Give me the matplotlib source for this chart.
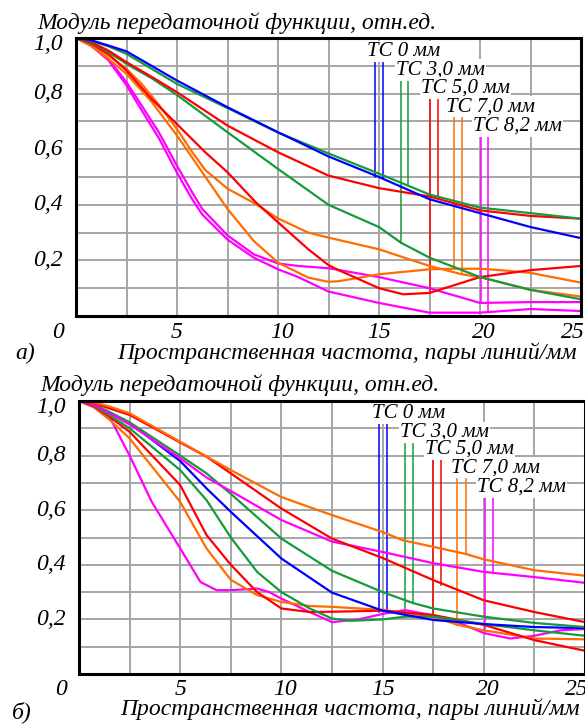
import numpy as np
import matplotlib
matplotlib.use('Agg')
import matplotlib.pyplot as plt
from matplotlib import transforms

plt.rcParams['font.family'] = ['Liberation Serif', 'DejaVu Serif']
plt.rcParams['font.style'] = 'italic'

BLUE = '#0000ff'
GREEN = '#159a3c'
RED = '#ff0000'
ORANGE = '#ff6c00'
MAGENTA = '#ff00ff'

# ---------------- panel a) ----------------
a_blue_x = [0, 0.75, 1.6, 2.5, 5, 7.5, 10, 12.5, 15, 17.5, 20, 22.5, 25]
a_blue_y = [1.0, 0.992, 0.973, 0.952, 0.847, 0.751, 0.661, 0.574, 0.50, 0.42, 0.37, 0.32, 0.28]

a_green1_x = [0, 0.75, 1.6, 2.5, 5, 7.5, 10, 12.5, 15, 17.5, 20, 22.5, 25]
a_green1_y = [1.0, 0.99, 0.97, 0.943, 0.835, 0.748, 0.66, 0.585, 0.512, 0.437, 0.39, 0.37, 0.35]

a_red1_x = [0, 0.75, 1.6, 2.5, 3.75, 5, 7.5, 10, 12.5, 15, 17.5, 20, 22.5, 25]
a_red1_y = [1.0, 0.985, 0.955, 0.913, 0.86, 0.805, 0.685, 0.589, 0.505, 0.46, 0.43, 0.38, 0.36, 0.35]

a_green2_x = [0, 0.75, 1.6, 2.5, 3.75, 5, 7.5, 10, 12.5, 15, 16.1, 17.5, 20, 22.5, 25]
a_green2_y = [1.0, 0.982, 0.95, 0.907, 0.855, 0.795, 0.661, 0.529, 0.40, 0.32, 0.263, 0.21, 0.14, 0.094, 0.06]

a_red2_x = [0, 0.75, 1.6, 2.5, 3.75, 5, 6.4, 7.5, 8.9, 10, 11.5, 12.5, 13, 15, 16.2, 17.5, 20, 22.5, 25]
a_red2_y = [1.0, 0.98, 0.943, 0.883, 0.78, 0.69, 0.589, 0.517, 0.409, 0.337, 0.24, 0.183, 0.165, 0.10,
            0.078, 0.083, 0.14, 0.165, 0.18]

a_orange1_x = [0, 0.75, 1.6, 2.5, 3.25, 4.1, 5, 5.75, 6.4, 7.5, 8.9, 10, 11.5, 12.5, 15, 17.5, 19.1, 20,
               22.5, 25]
a_orange1_y = [1.0, 0.978, 0.937, 0.889, 0.835, 0.76, 0.672, 0.59, 0.525, 0.458, 0.403, 0.351, 0.30,
               0.282, 0.24, 0.18, 0.15, 0.14, 0.094, 0.07]

a_orange2_x = [0, 0.75, 1.6, 2.5, 3.75, 5, 6.25, 7.5, 8.8, 10, 11.5, 12.5, 13, 15, 17.5, 18.7, 20, 21,
               22.5, 25]
a_orange2_y = [1.0, 0.972, 0.925, 0.871, 0.77, 0.649, 0.517, 0.385, 0.27, 0.192, 0.138, 0.123, 0.125,
               0.15, 0.168, 0.17, 0.17, 0.165, 0.155, 0.12]

a_magenta1_x = [0, 0.75, 1.6, 2.5, 3.25, 4.1, 5, 5.75, 6.25, 7.5, 8.8, 10, 11, 12.5, 15, 17.5, 20,
                22.5, 25]
a_magenta1_y = [1.0, 0.974, 0.925, 0.841, 0.757, 0.661, 0.54, 0.445, 0.385, 0.29, 0.222, 0.189, 0.18,
                0.172, 0.14, 0.10, 0.047, 0.05, 0.05]

a_magenta2_x = [0, 0.75, 1.6, 2.5, 3.25, 4.1, 5, 5.75, 6.25, 7.5, 8.8, 10, 11, 12.5, 15, 17.5, 20,
                22.5, 25]
a_magenta2_y = [1.0, 0.972, 0.92, 0.83, 0.74, 0.64, 0.515, 0.42, 0.365, 0.275, 0.21, 0.168, 0.14,
                0.088, 0.047, 0.012, 0.012, 0.025, 0.018]

# ---------------- panel б) ----------------
b_orange1_x = [0, 0.75, 1.5, 2.5, 5, 7.5, 10, 12.5, 15, 16, 19.1, 20, 22.5, 25]
b_orange1_y = [1.0, 0.995, 0.98, 0.955, 0.851, 0.747, 0.648, 0.582, 0.52, 0.49, 0.44, 0.42, 0.38, 0.36]

b_red1_x = [0, 0.75, 1.5, 2.5, 5, 6.3, 7.5, 10, 12.5, 15, 17.5, 20, 22.5, 25]
b_red1_y = [1.0, 0.992, 0.973, 0.949, 0.848, 0.796, 0.735, 0.606, 0.496, 0.425, 0.344, 0.27, 0.227, 0.19]

b_magenta1_x = [0, 0.75, 1.5, 2.5, 5, 6.3, 7.5, 10, 12.5, 15, 17.5, 20, 22.5, 25]
b_magenta1_y = [1.0, 0.985, 0.955, 0.914, 0.79, 0.72, 0.67, 0.564, 0.485, 0.447, 0.406, 0.374, 0.355, 0.334]

b_green1_x = [0, 0.75, 1.5, 2.5, 5, 6.3, 7.5, 10, 12.5, 15, 16.5, 17.5, 20, 22.5, 25]
b_green1_y = [1.0, 0.987, 0.96, 0.922, 0.80, 0.735, 0.66, 0.496, 0.378, 0.30, 0.26, 0.24, 0.21, 0.187, 0.172]

b_blue_x = [0, 0.75, 1.5, 2.5, 5, 6.3, 7.5, 10, 12.5, 15, 17.5, 20, 22.5, 25]
b_blue_y = [1.0, 0.986, 0.958, 0.92, 0.78, 0.68, 0.594, 0.423, 0.298, 0.232, 0.198, 0.183, 0.172, 0.168]

b_green2_x = [0, 0.75, 1.5, 2.5, 5, 6.3, 7.5, 8.8, 10, 11.4, 12.5, 13.5, 15, 16.1, 17.5, 20, 22.5, 25]
b_green2_y = [1.0, 0.983, 0.948, 0.90, 0.747, 0.637, 0.50, 0.374, 0.30, 0.24, 0.203, 0.195, 0.20, 0.21,
              0.21, 0.183, 0.16, 0.14]

b_red2_x = [0, 0.75, 1.5, 2.5, 5, 6.3, 7.5, 8.8, 10, 11.4, 12.5, 15, 17.5, 20, 22.5, 25]
b_red2_y = [1.0, 0.98, 0.943, 0.887, 0.692, 0.509, 0.40, 0.30, 0.24, 0.227, 0.228, 0.232, 0.216, 0.18,
            0.124, 0.085]

b_orange2_x = [0, 0.75, 1.5, 2.5, 5, 6.3, 7.5, 8.8, 10, 11.4, 12.5, 15, 17.5, 18.7, 20, 22.5, 25]
b_orange2_y = [1.0, 0.976, 0.932, 0.863, 0.63, 0.46, 0.345, 0.289, 0.264, 0.249, 0.246, 0.235, 0.21,
               0.18, 0.16, 0.13, 0.127]

b_magenta2_x = [0, 0.75, 1.5, 2.5, 3.6, 5, 6, 6.8, 7.5, 8.8, 9.4, 10, 11.4, 12.5, 13.8, 15, 16.1,
                17.5, 18.7, 20, 21.3, 22.5, 23.8, 25]
b_magenta2_y = [1.0, 0.985, 0.943, 0.80, 0.63, 0.46, 0.337, 0.307, 0.307, 0.313, 0.30, 0.276, 0.227,
                0.19, 0.2, 0.22, 0.234, 0.215, 0.19, 0.15, 0.13, 0.14, 0.16, 0.165]

# legend labels and their marker lines (two per defocus value)
tc_labels = ['ТС 0 мм', 'ТС 3,0 мм', 'ТС 5,0 мм', 'ТС 7,0 мм', 'ТС 8,2 мм']
tc_colors = [BLUE, GREEN, RED, ORANGE, MAGENTA]
a_mark_x = [(14.8, 15.2), (16.1, 16.45), (17.5, 17.9), (18.7, 19.1), (20.05, 20.4)]
a_mark_top = [0.917, 0.853, 0.784, 0.716, 0.644]
a_mark_end = [(0.50, 0.496), (0.263, 0.475), (0.083, 0.43), (0.17, 0.15), (0.047, 0.018)]
a_label_xy = [(14.4, 0.95), (15.86, 0.885), (17.1, 0.82), (18.33, 0.752), (19.66, 0.682)]

b_mark_x = [(14.8, 15.2), (16.1, 16.5), (17.5, 17.9), (18.7, 19.1), (20.05, 20.45)]
b_mark_top = [0.919, 0.853, 0.788, 0.714, 0.645]
b_mark_end = [(0.227, 0.223), (0.21, 0.26), (0.216, 0.326), (0.18, 0.44), (0.15, 0.37)]
b_label_xy = [(14.48, 0.956), (15.86, 0.886), (17.1, 0.824), (18.38, 0.755), (19.66, 0.685)]

y_labels = ['0,2', '0,4', '0,6', '0,8', '1,0']
y_label_vals = [0.2, 0.4, 0.6, 0.8, 1.0]
x_labels = ['5', '10', '15', '20', '25']
x_label_pos = [5.0, 10.2, 15.0, 20.2, 24.6]

title = 'Модуль передаточной функции, отн.ед.'
xtitle = 'Пространственная частота, пары линий/мм'

FS = 17
FS_TC = 15


def draw_panel(ax, curves, mark_x, mark_top, mark_end, label_xy):
    ax.set_xlim(0, 25)
    ax.set_ylim(0, 1.0)
    ax.set_xticks(np.arange(0, 25.01, 2.5))
    ax.set_yticks(np.arange(0, 1.001, 0.1))
    ax.set_xticklabels([])
    ax.set_yticklabels([])
    ax.tick_params(length=0)
    ax.grid(True, color='#a6a6a6', lw=1.4)
    ax.set_axisbelow(True)
    for s in ax.spines.values():
        s.set_linewidth(2.2)
        s.set_color('black')
        s.set_zorder(6)

    for x, y, c in curves:
        ax.plot(x, y, color=c, lw=1.6, zorder=3, solid_joinstyle='round')

    for i, c in enumerate(tc_colors):
        for k in range(2):
            ax.plot([mark_x[i][k], mark_x[i][k]], [mark_top[i], mark_end[i][k]],
                    color=c, lw=1.1, zorder=2)
        ax.text(label_xy[i][0], label_xy[i][1], tc_labels[i], fontsize=FS_TC,
                ha='left', va='center', zorder=4,
                bbox=dict(boxstyle='square,pad=0.05', fc='white', ec='none'))

    ty = transforms.blended_transform_factory(ax.transAxes, ax.transData)
    for v, s in zip(y_label_vals, y_labels):
        yy = v - 0.025 if v == 1.0 else v
        ax.text(-0.027, yy, s, transform=ty, ha='right', va='center', fontsize=FS)
    tx = transforms.blended_transform_factory(ax.transData, ax.transAxes)
    for p, s in zip(x_label_pos, x_labels):
        ax.text(p, -0.058, s, transform=tx, ha='center', va='center', fontsize=FS)
    ax.text(-0.036, -0.058, '0', transform=ax.transAxes, ha='center', va='center', fontsize=FS)


fig = plt.figure(figsize=(5.85, 7.24), dpi=100)

ax1 = fig.add_axes([76 / 585, 1 - 316 / 724, 505 / 585, 278 / 724])
draw_panel(ax1, [
    (a_magenta1_x, a_magenta1_y, MAGENTA), (a_magenta2_x, a_magenta2_y, MAGENTA),
    (a_orange1_x, a_orange1_y, ORANGE), (a_orange2_x, a_orange2_y, ORANGE),
    (a_red2_x, a_red2_y, RED), (a_green2_x, a_green2_y, GREEN),
    (a_red1_x, a_red1_y, RED), (a_green1_x, a_green1_y, GREEN),
    (a_blue_x, a_blue_y, BLUE),
], a_mark_x, a_mark_top, a_mark_end, a_label_xy)

ax2 = fig.add_axes([79 / 585, 1 - 674 / 724, 506 / 585, 273 / 724])
draw_panel(ax2, [
    (b_magenta2_x, b_magenta2_y, MAGENTA), (b_orange2_x, b_orange2_y, ORANGE),
    (b_red2_x, b_red2_y, RED), (b_green2_x, b_green2_y, GREEN),
    (b_blue_x, b_blue_y, BLUE), (b_green1_x, b_green1_y, GREEN),
    (b_magenta1_x, b_magenta1_y, MAGENTA), (b_red1_x, b_red1_y, RED),
    (b_orange1_x, b_orange1_y, ORANGE),
], b_mark_x, b_mark_top, b_mark_end, b_label_xy)

fig.text(37 / 585, 1 - 23 / 724, title, fontsize=FS, ha='left', va='center')
fig.text(40 / 585, 1 - 385 / 724, title, fontsize=FS, ha='left', va='center')
fig.text(117 / 585, 1 - 353 / 724, xtitle, fontsize=FS, ha='left', va='center')
fig.text(120 / 585, 1 - 709 / 724, xtitle, fontsize=FS, ha='left', va='center')
fig.text(15 / 585, 1 - 353 / 724, 'а)', fontsize=FS, ha='left', va='center')
fig.text(12 / 585, 1 - 712 / 724, 'б)', fontsize=FS, ha='left', va='center')

fig.savefig('out.png', dpi=100)
